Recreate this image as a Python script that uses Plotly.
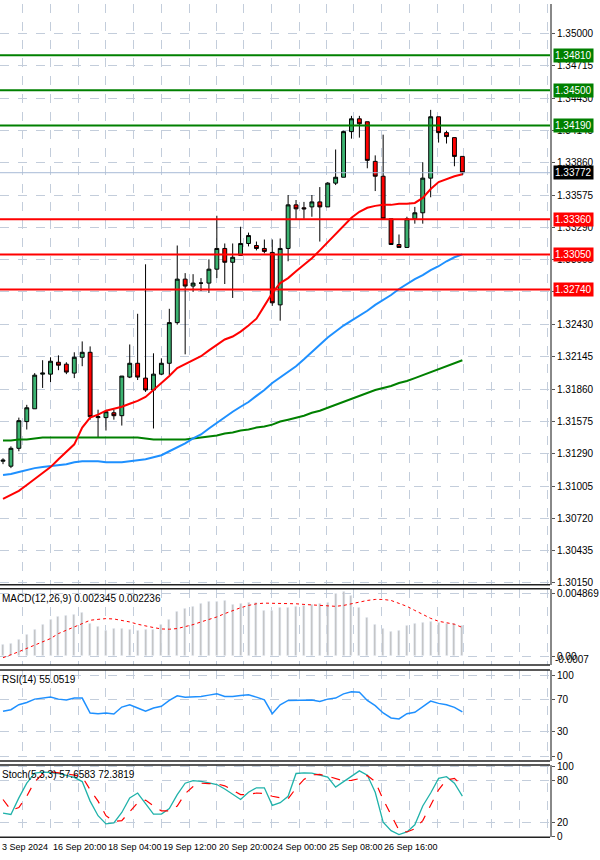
import plotly.graph_objects as go

# ---------------- data ----------------
opens  = [1.31224,1.31180,1.31338,1.31574,1.31687,1.31993,1.31993,1.32098,1.32081,1.32002,1.32142,1.32186,1.31609,1.31609,1.31652,1.31626,1.31967,1.32089,1.31958,1.31853,1.31993,1.32089,1.32448,1.32832,1.32771,1.32797,1.32797,1.32920,1.33103,1.32981,1.33042,1.33147,1.33129,1.33103,1.33068,1.32605,1.33103,1.33488,1.33462,1.33470,1.33514,1.33470,1.33680,1.33732,1.34135,1.34248,1.34222,1.33872,1.33741,1.33365,1.33138,1.33112,1.33365,1.33418,1.33724,1.34266,1.34126,1.34082,1.33916]
highs  = [1.31250,1.31355,1.31609,1.31722,1.32002,1.32116,1.32142,1.32159,1.32098,1.32186,1.32282,1.32238,1.31679,1.31679,1.31679,1.31976,1.32255,1.32526,1.32963,1.32177,1.32133,1.32570,1.33129,1.32885,1.32876,1.32841,1.33007,1.33392,1.33147,1.33147,1.33295,1.33243,1.33164,1.33182,1.33182,1.33191,1.33575,1.33531,1.33514,1.33575,1.33645,1.33689,1.33977,1.34143,1.34274,1.34274,1.34222,1.33925,1.34108,1.33365,1.33226,1.33383,1.33470,1.33864,1.34327,1.34266,1.34143,1.34082,1.33916]
lows   = [1.31198,1.31163,1.31312,1.31504,1.31687,1.31871,1.31923,1.32028,1.31993,1.31958,1.32063,1.31591,1.31434,1.31495,1.31591,1.31539,1.31958,1.31941,1.31836,1.31513,1.31984,1.31984,1.32430,1.32168,1.32719,1.32727,1.32710,1.32841,1.32789,1.32666,1.33042,1.33121,1.33086,1.33060,1.32596,1.32465,1.32990,1.33357,1.33365,1.33383,1.33164,1.33470,1.33663,1.33732,1.34073,1.34082,1.33811,1.33610,1.33365,1.33138,1.33112,1.33112,1.33322,1.33322,1.33555,1.34038,1.34030,1.33829,1.33750]
closes = [1.31233,1.31338,1.31582,1.31696,1.31984,1.32002,1.32107,1.32072,1.32011,1.32142,1.32186,1.31617,1.31617,1.31661,1.31626,1.31976,1.32089,1.31967,1.31853,1.31993,1.32089,1.32448,1.32832,1.32771,1.32797,1.32797,1.32920,1.33103,1.32981,1.33025,1.33147,1.33217,1.33103,1.33077,1.32623,1.33103,1.33488,1.33453,1.33453,1.33514,1.33470,1.33680,1.33732,1.34135,1.34248,1.34204,1.33881,1.33741,1.33365,1.33138,1.33112,1.33365,1.33418,1.33724,1.34266,1.34126,1.34091,1.33916,1.33772]

ma_fast = [1.30892,1.30927,1.30962,1.31014,1.31067,1.31119,1.31172,1.31242,1.31312,1.31373,1.31521,1.31609,1.31635,1.31670,1.31687,1.31705,1.31731,1.31757,1.31792,1.31853,1.31915,1.31976,1.32046,1.32081,1.32116,1.32151,1.32203,1.32255,1.32299,1.32325,1.32369,1.32422,1.32483,1.32596,1.32710,1.32797,1.32841,1.32902,1.32955,1.33016,1.33086,1.33156,1.33234,1.33304,1.33374,1.33427,1.33462,1.33479,1.33488,1.33488,1.33497,1.33497,1.33505,1.33549,1.33628,1.33689,1.33715,1.33741,1.33759]
ma_mid  = [1.31102,1.31111,1.31128,1.31146,1.31163,1.31172,1.31180,1.31189,1.31198,1.31215,1.31224,1.31224,1.31224,1.31215,1.31215,1.31215,1.31224,1.31233,1.31242,1.31259,1.31277,1.31312,1.31347,1.31382,1.31425,1.31460,1.31513,1.31565,1.31617,1.31661,1.31705,1.31747,1.31801,1.31853,1.31915,1.31967,1.32011,1.32063,1.32124,1.32186,1.32247,1.32317,1.32369,1.32422,1.32465,1.32509,1.32553,1.32605,1.32649,1.32692,1.32745,1.32789,1.32832,1.32867,1.32911,1.32946,1.32990,1.33025,1.33051]
ma_slow = [1.31408,1.31408,1.31416,1.31416,1.31425,1.31434,1.31434,1.31434,1.31434,1.31434,1.31434,1.31434,1.31434,1.31434,1.31434,1.31434,1.31434,1.31434,1.31425,1.31416,1.31416,1.31416,1.31416,1.31416,1.31425,1.31434,1.31443,1.31451,1.31469,1.31478,1.31495,1.31504,1.31521,1.31530,1.31547,1.31574,1.31591,1.31609,1.31626,1.31652,1.31670,1.31696,1.31722,1.31747,1.31775,1.31801,1.31827,1.31853,1.31871,1.31888,1.31915,1.31932,1.31958,1.31984,1.32011,1.32037,1.32063,1.32089,1.32116]

macd_hist = [0.85,0.98,1.30,1.63,2.07,2.46,2.87,3.06,3.13,3.24,3.37,2.54,2.28,1.97,2.15,2.15,2.07,1.97,2.02,2.02,2.46,2.85,3.44,3.70,3.83,4.09,4.22,4.27,4.30,4.04,4.09,4.14,4.14,3.57,3.57,3.78,3.78,3.89,3.96,4.04,4.09,4.14,4.87,5.00,4.74,3.78,3.00,2.41,2.15,1.89,1.94,2.36,2.54,2.59,2.67,2.59,2.54,2.49,2.345]
macd_signal = [-0.13,0.08,0.34,0.60,0.85,1.09,1.37,1.76,2.02,2.28,2.59,2.80,2.87,2.93,2.90,2.80,2.67,2.49,2.33,2.23,2.12,2.10,2.15,2.28,2.46,2.67,2.85,3.06,3.32,3.57,3.78,3.96,4.09,4.14,4.14,4.14,4.09,4.09,4.04,3.99,3.94,3.89,3.89,3.96,4.09,4.25,4.35,4.43,4.43,4.35,4.14,3.89,3.57,3.26,2.95,2.72,2.59,2.49,2.236]
rsi = [55.8,57.8,64.0,66.9,71.0,72.3,73.5,71.0,69.8,72.3,72.3,53.7,52.9,53.7,52.5,61.1,64.0,59.9,55.8,59.9,62.0,69.4,75.2,73.5,73.5,74.3,76.0,77.6,74.3,74.3,75.6,76.4,73.5,70.2,52.9,64.0,69.4,69.8,69.4,69.8,68.1,71.0,72.3,77.6,80.1,79.7,69.4,62.8,53.7,47.5,46.3,52.9,54.5,61.1,68.6,65.7,64.0,60.7,55.05]
stoch_main = [33.7,31.8,55.3,76.1,90.4,91.7,91.3,89.9,87.1,84.4,78.4,50.7,30.0,18.4,19.8,34.6,55.3,62.2,47.0,32.3,32.3,40.1,59.9,76.1,79.8,78.8,76.5,74.2,67.8,59.9,53.0,63.2,69.6,69.6,44.7,48.4,57.6,89.9,90.8,90.4,88.1,84.8,70.5,78.4,86.2,93.6,87.6,63.2,20.7,8.8,3.2,6.9,17.1,43.8,62.2,83.0,85.3,76.1,57.66]
stoch_signal = [53.0,37.8,41.5,57.6,78.4,89.0,92.2,91.3,89.4,87.6,85.3,66.8,50.7,30.0,21.7,23.0,36.4,48.4,52.1,43.8,36.9,36.9,43.8,61.3,71.5,76.1,75.6,75.2,72.4,65.9,59.9,59.9,62.2,61.3,57.6,55.3,53.9,69.1,81.5,88.0,88.5,86.2,83.0,79.3,80.2,82.5,87.1,78.4,53.0,30.0,9.2,6.9,11.5,23.1,44.7,66.8,80.7,83.0,72.38]

price_ticks = [1.35000,1.34715,1.34430,1.34145,1.33860,1.33575,1.33290,1.33005,1.32720,1.32430,1.32145,1.31860,1.31575,1.31290,1.31005,1.30720,1.30435,1.30150]
support_levels = [1.33360,1.33050,1.32740]
resist_levels = [1.34810,1.34500,1.34190]
last_price = 1.33772
date_labels = ["3 Sep 2024","16 Sep 20:00","18 Sep 04:00","19 Sep 12:00","20 Sep 20:00","24 Sep 00:00","25 Sep 08:00","26 Sep 16:00"]
date_pos = [-0.38,6.0,13.0,20.0,27.0,33.9,40.9,47.8]
vgrid = [2.5,6.0,9.5,13.0,16.5,20.0,23.5,27.0,30.4,33.9,37.4,40.9,44.3,47.8,51.3,54.8,58.2,61.7,65.2,68.7]

x = list(range(len(closes)))
XR = [-0.38, 69.07]
XD = [0, 0.9167]
H = 860
def dom(top, bot):
    return [1 - bot / H, 1 - top / H]

FONT = dict(family="Liberation Sans", size=10, color="black")
GRID = "#c3cddb"

fig = go.Figure()
fig.add_trace(go.Candlestick(x=x, open=opens, high=highs, low=lows, close=closes,
    increasing=dict(fillcolor="#3cb371", line=dict(color="black", width=1)),
    decreasing=dict(fillcolor="#ff0000", line=dict(color="black", width=1)),
    whiskerwidth=0, xaxis="x", yaxis="y", showlegend=False))
for arr, col in [(ma_slow, "#008000"), (ma_mid, "#1e90ff"), (ma_fast, "#ff0000")]:
    fig.add_trace(go.Scatter(x=x, y=arr, mode="lines", line=dict(color=col, width=2),
                             xaxis="x", yaxis="y", showlegend=False, hoverinfo="skip"))

fig.add_trace(go.Bar(x=x, y=[v / 1000 for v in macd_hist], marker_color="#c0c0c0", width=0.25,
                     xaxis="x2", yaxis="y2", showlegend=False))
fig.add_trace(go.Scatter(x=x, y=[v / 1000 for v in macd_signal], mode="lines",
                         line=dict(color="#ff0000", width=1, dash="dot"), xaxis="x2", yaxis="y2", showlegend=False))
fig.add_trace(go.Scatter(x=x, y=rsi, mode="lines", line=dict(color="#1e90ff", width=1.5),
                         xaxis="x3", yaxis="y3", showlegend=False))
fig.add_trace(go.Scatter(x=x, y=stoch_main, mode="lines", line=dict(color="#20b2aa", width=1.3),
                         xaxis="x4", yaxis="y4", showlegend=False))
fig.add_trace(go.Scatter(x=x, y=stoch_signal, mode="lines", line=dict(color="#ff0000", width=1.2, dash="dash"),
                         xaxis="x4", yaxis="y4", showlegend=False))

def xax(anchor):
    return dict(domain=XD, range=XR, anchor=anchor, showticklabels=False, tickvals=vgrid, ticks="",
                showgrid=True, gridcolor=GRID, griddash="dash", gridwidth=1, zeroline=False,
                rangeslider=dict(visible=False), fixedrange=True)

def yax(anchor, d, rng, tv, tt=None):
    a = dict(domain=d, range=rng, anchor=anchor, side="right", tickvals=tv, ticks="outside", ticklen=3,
             tickcolor="#555", tickfont=FONT, showgrid=True, gridcolor=GRID, griddash="dash",
             zeroline=False, showline=True, linecolor="#888", linewidth=2)
    if tt is not None:
        a["ticktext"] = tt
    return a

d1 = dom(0, 587); d2 = dom(591, 668); d3 = dom(673, 765); d4 = dom(769, 842)
fig.update_layout(
    width=600, height=860, margin=dict(l=0, r=0, t=0, b=0),
    paper_bgcolor="white", plot_bgcolor="white", bargap=0,
    xaxis=xax("y"), xaxis2=xax("y2"), xaxis3=xax("y3"), xaxis4=xax("y4"),
    yaxis=yax("x", d1, [1.30132, 1.35262], price_ticks, [f"{v:.5f}" for v in price_ticks]),
    yaxis2=yax("x2", d2, [-0.0007, 0.00526], [0.004869, 0.0], ["0.004869", "0.00"]),
    yaxis3=yax("x3", d3, [-6.2, 107.4], [100, 70, 30, 0]),
    yaxis4=yax("x4", d4, [-0.5, 102], [100, 80, 20, 0]),
)

shapes = []
for lv in resist_levels:
    shapes.append(dict(type="line", xref="x", yref="y", x0=XR[0], x1=XR[1], y0=lv, y1=lv,
                       line=dict(color="#008000", width=2)))
for lv in support_levels:
    shapes.append(dict(type="line", xref="x", yref="y", x0=XR[0], x1=XR[1], y0=lv, y1=lv,
                       line=dict(color="#ff0000", width=2)))
shapes.append(dict(type="line", xref="x", yref="y", x0=XR[0], x1=XR[1], y0=last_price, y1=last_price,
                   line=dict(color="#a8bad6", width=1)))
edges = [d1[0], d2[1], d2[0], d3[1], d3[0], d4[1], d4[0]]
for yy in edges:
    shapes.append(dict(type="line", xref="paper", yref="paper", x0=0, x1=XD[1], y0=yy, y1=yy,
                       line=dict(color="#222", width=1.5)))
fig.update_layout(shapes=shapes)

ann = []
def box(val, bg):
    ann.append(dict(xref="paper", yref="y", x=0.9217, y=val, xanchor="left", yanchor="middle",
                    text=f"{val:.5f}", showarrow=False, bgcolor=bg, borderpad=1,
                    font=dict(family="Liberation Sans", size=10, color="white")))
for lv in resist_levels:
    box(lv, "#008000")
for lv in support_levels:
    box(lv, "#ff0000")
box(last_price, "#000000")
ann.append(dict(xref="paper", yref="y2", x=0.9217, y=-0.0003, xanchor="left", yanchor="middle",
                text="-0.0007", showarrow=False, font=FONT))
ann.append(dict(xref="paper", yref="paper", x=0.0, y=d2[1] - 0.002, xanchor="left", yanchor="top",
                text="MACD(12,26,9) 0.002345 0.002236", showarrow=False, font=FONT))
ann.append(dict(xref="paper", yref="paper", x=0.0, y=d3[1] - 0.002, xanchor="left", yanchor="top",
                text="RSI(14) 55.0519", showarrow=False, font=FONT))
ann.append(dict(xref="paper", yref="paper", x=0.0, y=d4[1] - 0.002, xanchor="left", yanchor="top",
                text="Stoch(5,3,3) 57.6583 72.3819", showarrow=False, font=FONT))
for lbl, p in zip(date_labels, date_pos):
    ann.append(dict(xref="x4", yref="paper", x=p, y=d4[0] - 0.003, xanchor="left", yanchor="top",
                    text=lbl, showarrow=False, font=dict(family="Liberation Sans", size=9, color="black")))
fig.update_layout(annotations=ann)

fig.write_html("out.html", config={"displayModeBar": False})
with open("out.html", encoding="utf-8") as fh:
    page = fh.read()
page = page.replace("<head>", "<head><style>html,body{margin:0;padding:0;overflow:hidden;}</style>", 1)
with open("out.html", "w", encoding="utf-8") as fh:
    fh.write(page)
